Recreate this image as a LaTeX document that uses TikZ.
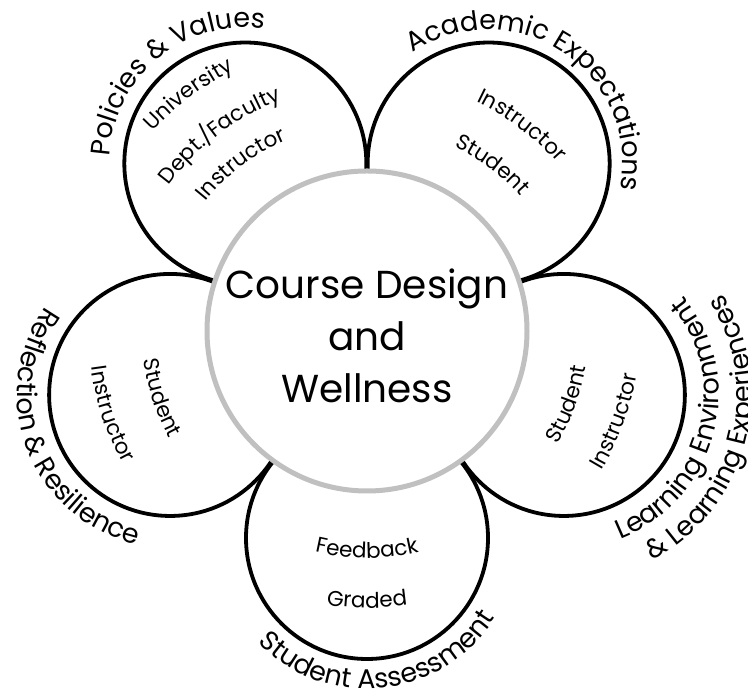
\documentclass[tikz,border=0pt]{standalone}
\usepackage{fontspec}
\setmainfont{Poppins}
\usetikzlibrary{calc}
\newcommand\outerfnt{\fontsize{27}{32}\selectfont}
\newcommand\innerfnt{\fontsize{21.5}{25}\selectfont}
\newcommand\centerfnt{\fontsize{39}{52}\selectfont}
\definecolor{ringgray}{RGB}{192,192,192}
\newcounter{arcchr}
\tikzset{
  petal/.style={circle, draw=black, line width=3.8pt, minimum size=242pt, inner sep=0pt, fill=white},
  hub/.style={circle, draw=ringgray, line width=5pt, minimum size=320pt, inner sep=0pt, fill=white},
  titletext/.style={font=\centerfnt, align=center, inner sep=0pt},
  archar/.style={anchor=base, inner sep=0pt, outer sep=0pt}
}
\newcommand\arcputchar[6]{\stepcounter{arcchr}%
  \node[archar, rotate=#4, font=#5] (ch\arabic{arcchr}) at ($(#1)+(#2,#3)$) {#6};}
\ExplSyntaxOn
\dim_new:N \l__arc_tot_dim
\dim_new:N \l__arc_acc_dim
\dim_new:N \l__arc_w_dim
\fp_new:N \l__arc_ang_fp
\tl_new:N \l__arc_text_tl
\tl_new:N \g__arc_cmds_tl
\box_new:N \l__arc_box
% #1 centre, #2 baseline radius, #3 mid angle, #4 dir (1 = clockwise, tops out; -1 = ccw, tops in), #5 font, #6 text
\NewDocumentCommand \arclabel { m m m m m m }
  {
    \tl_set:Nn \l__arc_text_tl { #6 }
    \tl_replace_all:Nnn \l__arc_text_tl { ~ } { { ~ } }
    \dim_zero:N \l__arc_tot_dim
    \tl_map_inline:Nn \l__arc_text_tl
      {
        \hbox_set:Nn \l__arc_box { #5 ##1 }
        \dim_add:Nn \l__arc_tot_dim { \box_wd:N \l__arc_box }
      }
    \dim_zero:N \l__arc_acc_dim
    \tl_map_inline:Nn \l__arc_text_tl
      {
        \hbox_set:Nn \l__arc_box { #5 ##1 }
        \dim_set:Nn \l__arc_w_dim { \box_wd:N \l__arc_box }
        \fp_set:Nn \l__arc_ang_fp
          { #3 + (#4) * ( \dim_to_fp:n { \l__arc_tot_dim / 2 - \l__arc_acc_dim - \l__arc_w_dim / 2 } ) / (#2) * 180 / pi }
        \tl_if_blank:nF { ##1 }
          {
            \tl_gput_right:Nx \g__arc_cmds_tl
              {
                \exp_not:N \arcputchar
                  { #1 }
                  { \fp_eval:n { round ( (#2) * cosd ( \l__arc_ang_fp ) , 3 ) } }
                  { \fp_eval:n { round ( (#2) * sind ( \l__arc_ang_fp ) , 3 ) } }
                  { \fp_eval:n { round ( \l__arc_ang_fp - (#4) * 90 , 3 ) } }
                  { \exp_not:n { #5 } }
                  { \exp_not:n { ##1 } }
              }
          }
        \dim_add:Nn \l__arc_acc_dim { \l__arc_w_dim }
      }
  }
\NewDocumentCommand \arcdrawall { } { \tl_use:N \g__arc_cmds_tl }
\ExplSyntaxOff
\begin{document}
% inner labels (arcs about the hub centre M)
\arclabel{M}{293}{127}{1}{\innerfnt}{University}
\arclabel{M}{246}{127}{1}{\innerfnt}{Dept./Faculty}
\arclabel{M}{207}{127}{1}{\innerfnt}{Instructor}
\arclabel{M}{254}{53}{1}{\innerfnt}{Instructor}
\arclabel{M}{204}{53}{1}{\innerfnt}{Student}
\arclabel{M}{278}{198}{-1}{\innerfnt}{Instructor}
\arclabel{M}{225}{198}{-1}{\innerfnt}{Student}
\arclabel{M}{222}{340}{-1}{\innerfnt}{Student}
\arclabel{M}{273}{340}{-1}{\innerfnt}{Instructor}
\arclabel{M}{227}{270}{-1}{\innerfnt}{Feedback}
\arclabel{M}{277}{270}{-1}{\innerfnt}{Graded}
% outer labels (arcs about each petal centre)
\arclabel{p1}{136}{129.5}{1}{\outerfnt}{Policies \& Values}
\arclabel{p2}{134}{56.5}{1}{\outerfnt}{Academic Expectations}
\arclabel{p3}{153}{201}{-1}{\outerfnt}{Reflection \& Resilience}
\arclabel{p4}{155}{345.5}{-1}{\outerfnt}{Learning Environment}
\arclabel{p4}{188}{345.5}{-1}{\outerfnt}{\& Learning Experiences}
\arclabel{p5}{151}{276}{-1}{\outerfnt}{Student Assessment}
\begin{tikzpicture}[x=1pt,y=1pt]
\useasboundingbox (0,0) rectangle (748,692);
\coordinate (M) at (367,361);
\node[petal] (p1) at ($(M)+(126:207)$) {};
\node[petal] (p2) at ($(M)+(54:207)$) {};
\node[petal] (p3) at ($(M)+(198:207)$) {};
\node[petal] (p4) at ($(M)+(342:207)$) {};
\node[petal] (p5) at ($(M)+(270:207)$) {};
\node[hub] (hub) at (M) {};
\node[titletext] (ttl) at ($(M)+(0,-5)$) {Course Design\\and\\Wellness};
\arcdrawall
\end{tikzpicture}
\end{document}
